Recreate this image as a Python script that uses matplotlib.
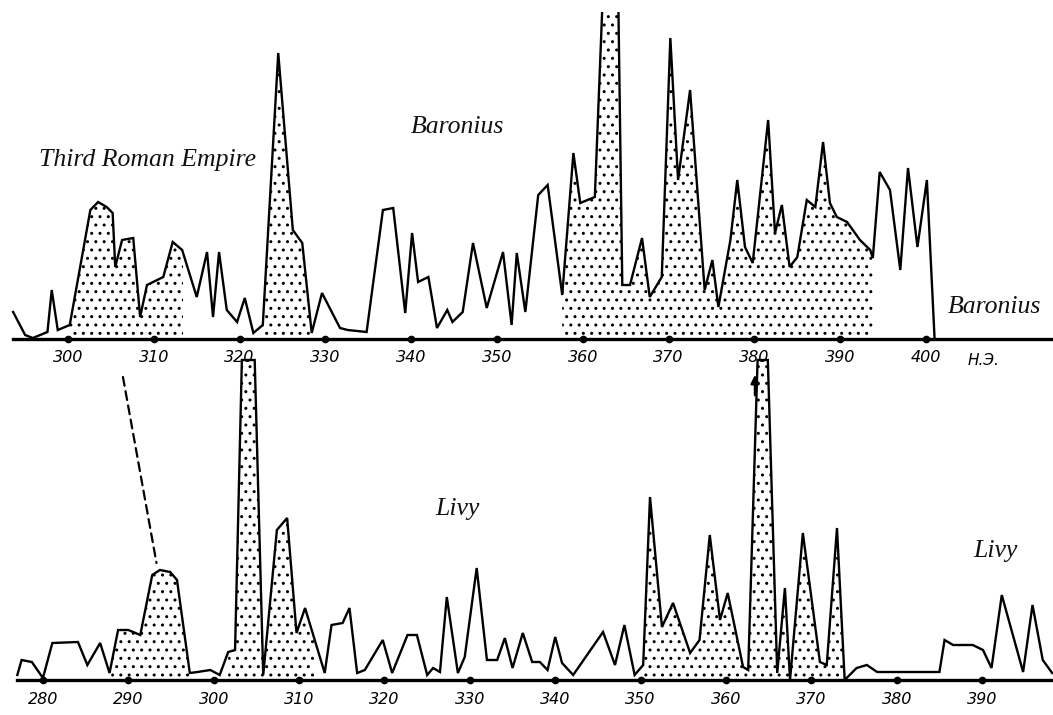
import numpy as np
import matplotlib
matplotlib.use("Agg")
import matplotlib.pyplot as plt
from matplotlib.patches import ConnectionPatch

# ---------------- data ----------------
baronius_years = [293.6, 295.0, 295.9, 297.6, 298.1, 298.8, 300.2, 302.6, 303.5, 304.5,
                  305.2, 305.5, 306.3, 307.6, 308.4, 309.2, 311.1, 312.2, 313.3, 315.0,
                  316.2, 316.9, 317.6, 318.5, 319.7, 320.6, 321.6, 322.7, 324.5, 326.2,
                  327.3, 328.4, 329.6, 331.7, 332.6, 334.8, 336.7, 337.9, 339.3, 340.1,
                  340.8, 342.0, 343.0, 344.2, 344.8, 346.0, 347.2, 348.8, 350.7, 351.7,
                  352.3, 353.3, 354.8, 355.9, 357.6, 358.9, 359.7, 361.4, 362.4, 364.1,
                  364.6, 365.5, 366.9, 367.8, 369.2, 370.2, 371.1, 372.5, 374.2, 375.1,
                  375.8, 377.2, 378.0, 378.9, 379.8, 381.6, 382.4, 383.2, 384.1, 385.0,
                  386.1, 387.1, 388.0, 388.8, 389.6, 390.8, 392.3, 393.5, 393.8, 394.6,
                  395.8, 397.0, 397.9, 399.0, 400.1, 401.0]
baronius_counts = [2.7, 0.4, 0.1, 0.7, 4.9, 0.9, 1.4, 12.9, 13.7, 13.2,
                   12.6, 7.2, 9.9, 10.1, 2.2, 5.4, 6.2, 9.7, 8.9, 4.2,
                   8.7, 2.2, 8.7, 2.9, 1.7, 4.1, 0.6, 1.4, 28.6, 10.9,
                   9.6, 0.6, 4.6, 1.1, 0.9, 0.7, 12.9, 13.1, 2.6, 10.6,
                   5.7, 6.2, 1.1, 2.9, 1.7, 2.7, 9.6, 3.1, 8.7, 1.4,
                   8.6, 2.7, 14.4, 15.4, 4.4, 18.6, 13.6, 14.2, 36.0, 36.0,
                   5.4, 5.4, 10.1, 4.2, 6.2, 30.1, 15.9, 24.9, 4.9, 7.9,
                   3.2, 9.9, 15.9, 9.2, 7.6, 21.9, 10.6, 13.4, 7.2, 8.2,
                   13.9, 13.2, 19.7, 13.6, 12.2, 11.7, 9.9, 8.9, 8.1, 16.7,
                   14.9, 6.9, 17.1, 9.2, 15.9, 0.0]
baronius_shaded = [(300.2, 313.4), (322.7, 328.4), (357.6, 393.8)]

livy_years = [277.0, 277.5, 278.7, 280.0, 281.1, 284.1, 285.2, 286.7, 287.8, 288.8,
              290.0, 291.4, 292.8, 293.7, 294.9, 295.7, 297.2, 298.1, 299.6, 300.7,
              301.7, 302.5, 303.3, 304.8, 305.8, 307.4, 308.6, 309.7, 310.7, 313.0,
              313.8, 315.1, 315.9, 316.8, 317.7, 319.8, 320.9, 322.7, 323.8, 325.0,
              325.7, 326.5, 327.3, 328.6, 329.4, 330.8, 332.0, 333.2, 334.1, 335.0,
              336.2, 337.3, 338.2, 339.1, 340.0, 340.8, 342.1, 345.6, 347.0, 348.1,
              349.3, 350.3, 351.1, 352.5, 353.8, 355.8, 356.9, 358.1, 359.3, 360.2,
              362.0, 362.6, 363.7, 364.9, 366.0, 366.9, 367.5, 369.0, 371.0, 371.8,
              373.0, 373.9, 375.3, 376.5, 377.7, 385.0, 385.6, 386.6, 388.9, 390.1,
              391.1, 392.3, 394.8, 395.9, 397.1, 398.2]
livy_counts = [0.5, 2.0, 1.8, 0.2, 3.7, 3.8, 1.5, 3.7, 0.7, 5.0,
               5.0, 4.5, 10.5, 11.0, 10.8, 10.0, 0.7, 0.8, 1.0, 0.5,
               2.8, 3.0, 32.0, 32.0, 0.5, 15.0, 16.2, 4.7, 7.2, 0.7,
               5.5, 5.7, 7.2, 0.7, 1.0, 4.0, 0.7, 4.5, 4.5, 0.5,
               1.2, 0.8, 8.3, 0.7, 2.3, 11.2, 2.0, 2.0, 4.2, 1.2,
               4.7, 1.8, 1.8, 1.0, 4.3, 1.7, 0.5, 4.8, 1.5, 5.5,
               0.5, 1.5, 18.3, 5.3, 7.7, 2.7, 4.0, 14.5, 6.0, 8.7,
               1.3, 1.0, 32.0, 32.0, 0.7, 9.2, 0.0, 14.7, 1.8, 1.5,
               15.2, 0.0, 1.2, 1.5, 0.8, 0.8, 4.0, 3.5, 3.5, 3.0,
               1.2, 8.5, 0.8, 7.5, 2.0, 0.7]
livy_shaded = [(288.0, 297.2), (301.7, 305.8), (305.8, 311.8), (350.3, 373.9)]

top_ticks = list(range(300, 401, 10))
bottom_ticks = list(range(280, 391, 10))

# connector (dashed) between the two series
connector_top = (306.4, -3.8)
connector_bottom = (293.3, 11.7)

# ---------------- figure ----------------
W, H = 1053, 715
fig = plt.figure(figsize=(W / 100, H / 100), dpi=100)
plt.rcParams['hatch.linewidth'] = 1.0

ax1 = fig.add_axes([0, 1 - 339 / H, 1, 327 / H])
ax2 = fig.add_axes([0, 1 - 680 / H, 1, 325 / H])
ax1.set_xlim(292.07, 414.8)
ax1.set_ylim(0, 32.7)
ax2.set_xlim(274.97, 398.3)
ax2.set_ylim(0, 32.5)

def draw(ax, years, counts, shaded, ticks, tick_pad, start):
    years = np.asarray(years, float)
    counts = np.asarray(counts, float)
    for a, b in shaded:
        g = np.linspace(a, b, 600)
        ax.fill_between(g, 0, np.interp(g, years, counts), facecolor='none',
                        edgecolor='black', hatch='..', linewidth=0, zorder=1)
    ax.plot(years, counts, color='black', lw=1.7, solid_joinstyle='miter', zorder=3)
    for s in ['top', 'left', 'right']:
        ax.spines[s].set_visible(False)
    ax.spines['bottom'].set_linewidth(2.4)
    ax.spines['bottom'].set_bounds(start, ax.get_xlim()[1])
    ax.set_yticks([])
    ax.set_xticks(ticks)
    ax.set_xticklabels([str(t) for t in ticks], fontstyle='italic', fontsize=11.5,
                       family='DejaVu Sans')
    ax.tick_params(axis='x', length=0, pad=tick_pad)
    ax.plot(ticks, [0] * len(ticks), 'o', color='black', ms=4.5, clip_on=False, zorder=4)
    ax.patch.set_alpha(0)

draw(ax1, baronius_years, baronius_counts, baronius_shaded, top_ticks, 8.0, 293.6)
draw(ax2, livy_years, livy_counts, livy_shaded, bottom_ticks, 8.5, 277.0)

# labels
serif = dict(family='Liberation Serif', style='italic', fontsize=18.5, color='#111111')
fig.text(39 / W, 1 - 166 / H, 'Third Roman Empire', ha='left', va='baseline', **serif)
fig.text(411 / W, 1 - 133 / H, 'Baronius', ha='left', va='baseline', **serif)
fig.text(948 / W, 1 - 313 / H, 'Baronius', ha='left', va='baseline', **serif)
fig.text(435 / W, 1 - 515 / H, 'Livy', ha='left', va='baseline', **serif)
fig.text(973 / W, 1 - 557 / H, 'Livy', ha='left', va='baseline', **serif)
fig.text(984 / W, 1 - 360 / H, 'Н.Э.', ha='center', va='center', fontsize=11,
         fontstyle='italic', family='DejaVu Sans')

# dashed connector
con = ConnectionPatch(xyA=connector_top, coordsA=ax1.transData,
                      xyB=connector_bottom, coordsB=ax2.transData,
                      linestyle=(0, (4, 2.5)), lw=1.6, color='black')
fig.add_artist(con)

# small arrow under 380
fig.add_artist(matplotlib.patches.FancyArrowPatch(
    (755 / W, 1 - 398 / H), (755 / W, 1 - 372 / H), transform=fig.transFigure,
    arrowstyle='-|>', mutation_scale=12, lw=1.8, color='black'))

fig.savefig('out.png', dpi=100)
